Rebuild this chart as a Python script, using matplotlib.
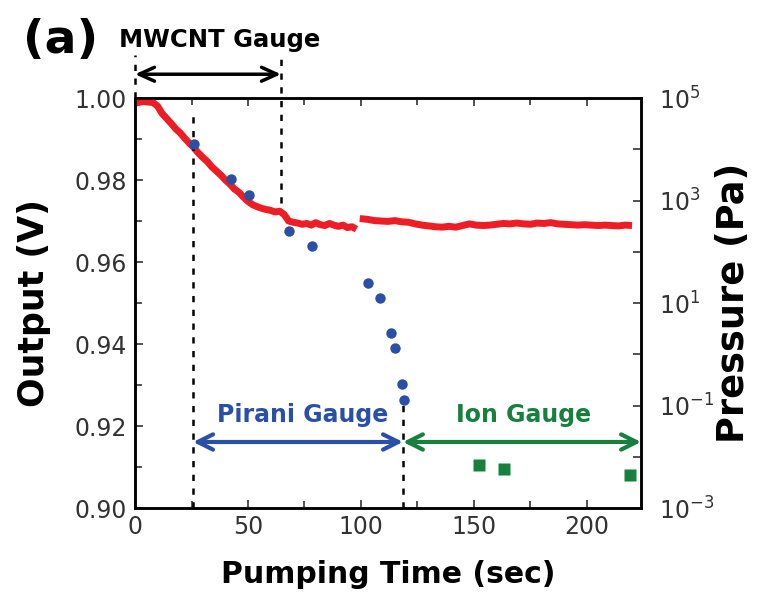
import numpy as np
import matplotlib
matplotlib.use("Agg")
import matplotlib.pyplot as plt
from matplotlib.ticker import MultipleLocator, FixedLocator, FuncFormatter

plt.rcParams['font.family'] = ['DejaVu Sans']
plt.rcParams['mathtext.default'] = 'regular'

# MWCNT gauge output (V), two recorded segments
t_seg1 = [0, 2, 4, 6, 8, 10, 12, 14, 16, 18, 20, 22, 24, 26, 28, 30, 32, 34, 36, 38,
          40, 42, 44, 46, 48, 50, 52, 54, 56, 58, 60, 62, 64, 66, 68, 70, 72, 74, 76,
          78, 80, 82, 84, 86, 88, 90, 92, 94, 96, 98]
v_seg1 = [0.9987, 0.9990, 0.9991, 0.9990, 0.9989, 0.9980, 0.9962, 0.9950, 0.9938,
          0.9925, 0.9915, 0.9902, 0.9890, 0.9879, 0.9866, 0.9855, 0.9845, 0.9832,
          0.9822, 0.9812, 0.9800, 0.9790, 0.9778, 0.9770, 0.9758, 0.9748, 0.9740,
          0.9735, 0.9731, 0.9728, 0.9726, 0.9722, 0.9724, 0.9716, 0.9700, 0.9697,
          0.9695, 0.9692, 0.9694, 0.9690, 0.9696, 0.9691, 0.9689, 0.9694, 0.9690,
          0.9687, 0.9690, 0.9684, 0.9686, 0.9680]
t_seg2 = [99.5, 103, 106, 109, 112, 115, 118, 121, 124, 127, 130, 133, 136, 139, 142,
          145, 148, 151, 154, 157, 160, 163, 166, 169, 172, 175, 178, 181, 184, 187,
          190, 193, 196, 199, 202, 205, 208, 211, 214, 217, 220]
v_seg2 = [0.9706, 0.9704, 0.9701, 0.9700, 0.9699, 0.9701, 0.9698, 0.9697, 0.9693,
          0.9690, 0.9688, 0.9686, 0.9685, 0.9687, 0.9685, 0.9689, 0.9693, 0.9690,
          0.9689, 0.9690, 0.9692, 0.9694, 0.9693, 0.9695, 0.9693, 0.9692, 0.9695,
          0.9694, 0.9696, 0.9693, 0.9692, 0.9691, 0.9690, 0.9691, 0.9690, 0.9689,
          0.9690, 0.9689, 0.9688, 0.9690, 0.9689]

# Pirani gauge pressure (Pa)
t_pirani = [26.1, 42.5, 50.5, 68.2, 78.4, 103.1, 108.4, 113.3, 115.1, 118.2, 119.1]
p_pirani = [10**4.10, 10**3.42, 10**3.11, 10**2.41, 10**2.12, 10**1.40, 10**1.09,
            10**0.41, 10**0.12, 10**-0.58, 10**-0.90]

# Ion gauge pressure (Pa)
t_ion = [152.2, 163.3, 219.1]
p_ion = [10**-2.17, 10**-2.24, 10**-2.36]

# gauge ranges (sec)
mwcnt_range = (0, 64.6)
pirani_range = (25.7, 118.6)
ion_range = (118.6, 224)

blue = '#2a4fa6'
green = '#17803d'

fig = plt.figure(figsize=(7.59, 5.98), dpi=100)
ax = fig.add_axes([0.1779, 0.1505, 0.6667, 0.6856])
ax2 = ax.twinx()

ax.plot(t_seg1, v_seg1, color='#ee1c24', lw=5, solid_capstyle='butt', zorder=3)
ax.plot(t_seg2, v_seg2, color='#ee1c24', lw=5, solid_capstyle='butt', zorder=3)

ax2.plot(t_pirani, p_pirani, 'o', color=blue, ms=7.5, mec='none', zorder=4)
ax2.plot(t_ion, p_ion, 's', color=green, ms=9, mec='none', zorder=4)

ax.set_xlim(0, 224)
ax.set_ylim(0.90, 1.00)
ax2.set_yscale('log')
ax2.set_ylim(1e-3, 1e5)

# dashed gauge boundaries
dash = dict(color='black', lw=1.8, ls=(0, (2.5, 3)), clip_on=False, zorder=5)
xtr = ax.get_xaxis_transform()
ax.plot([mwcnt_range[0]] * 2, [1.0, 1.105], transform=xtr, **dash)
ax.plot([mwcnt_range[1]] * 2, [0.745, 1.105], transform=xtr, **dash)
ax.plot([pirani_range[0]] * 2, [0.0, 0.96], transform=xtr, **dash)
ax.plot([pirani_range[1]] * 2, [0.0, 0.262], transform=xtr, **dash)

# range arrows
ax.annotate('', xy=(mwcnt_range[0], 1.058), xytext=(mwcnt_range[1], 1.058),
            xycoords=xtr, textcoords=xtr, annotation_clip=False,
            arrowprops=dict(arrowstyle='<->,head_length=1.1,head_width=0.5',
                            color='black', lw=2.5, shrinkA=0, shrinkB=0))
ax.annotate('', xy=(pirani_range[0], 0.161), xytext=(pirani_range[1], 0.161),
            xycoords=xtr, textcoords=xtr, annotation_clip=False,
            arrowprops=dict(arrowstyle='<->,head_length=1.1,head_width=0.55',
                            color=blue, lw=3, shrinkA=0, shrinkB=0))
ax.annotate('', xy=(ion_range[0], 0.161), xytext=(ion_range[1], 0.161),
            xycoords=xtr, textcoords=xtr, annotation_clip=False,
            arrowprops=dict(arrowstyle='<->,head_length=1.1,head_width=0.55',
                            color=green, lw=3, shrinkA=0, shrinkB=0))

ax.text(74, 0.227, 'Pirani Gauge', transform=xtr, ha='center', va='center',
        fontsize=17, fontweight='bold', color=blue)
ax.text(172, 0.227, 'Ion Gauge', transform=xtr, ha='center', va='center',
        fontsize=17, fontweight='bold', color=green)
fig.text(0.29, 0.933, 'MWCNT Gauge', ha='center', va='center',
         fontsize=17.5, fontweight='bold')
fig.text(0.03, 0.933, '(a)', ha='left', va='center', fontsize=34, fontweight='bold')

# ticks
ax.xaxis.set_major_locator(MultipleLocator(50))
ax.xaxis.set_minor_locator(MultipleLocator(25))
ax.yaxis.set_major_locator(MultipleLocator(0.02))
ax.yaxis.set_minor_locator(MultipleLocator(0.01))
ax.yaxis.set_major_formatter(FuncFormatter(lambda v, p: f'{v:.2f}'))
ax.tick_params(which='both', direction='in', top=True, labelsize=17, width=1.2,
               color='#333333', labelcolor='#333333')
ax.tick_params(axis='y', pad=6)
ax.tick_params(axis='x', pad=5)
ax.tick_params(which='major', length=6)
ax.tick_params(which='minor', length=5)

ax2.yaxis.set_major_locator(FixedLocator([10.0**k for k in range(-3, 6)]))
ax2.yaxis.set_minor_locator(FixedLocator([]))
ax2.yaxis.set_major_formatter(FuncFormatter(
    lambda v, p: f'$10^{{{int(round(np.log10(v)))}}}$' if int(round(np.log10(v))) % 2 else ''))
ax2.tick_params(which='both', direction='in', labelsize=17, length=6, width=1.2, pad=13,
                color='#333333', labelcolor='#333333')

for a in (ax, ax2):
    for s in a.spines.values():
        s.set_linewidth(1.8)

ax.set_xlabel('Pumping Time (sec)', fontsize=21.5, fontweight='bold', va='center')
ax.xaxis.set_label_coords(0.5, -0.163)
ax.set_ylabel('Output (V)', fontsize=25, fontweight='bold', va='center')
ax.yaxis.set_label_coords(-0.20, 0.5)
ax2.set_ylabel('Pressure (Pa)', fontsize=26.5, fontweight='bold', va='center')
ax2.yaxis.set_label_coords(1.182, 0.5)

fig.savefig('out.png', dpi=100)
